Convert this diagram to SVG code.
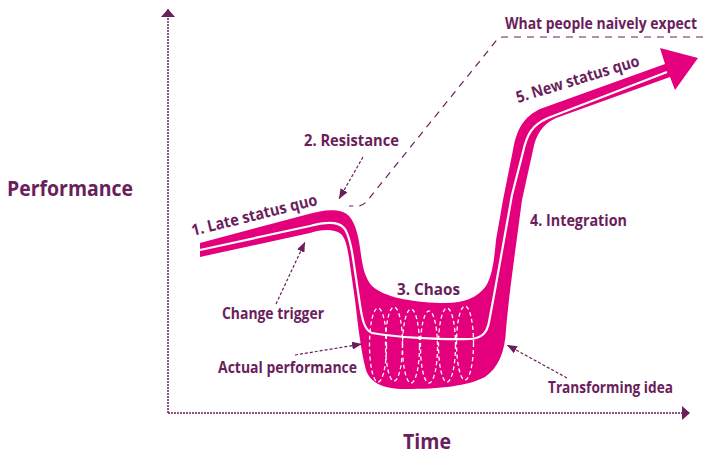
<svg xmlns="http://www.w3.org/2000/svg" width="703" height="454" viewBox="0 0 703 454">
  <defs>
    <style>
      .lbl { font-family: "Open Sans", "Liberation Sans", sans-serif; font-weight: 700; font-size: 16px; fill: #6a1e5c; }
      .axis-title { font-family: "Open Sans", "Liberation Sans", sans-serif; font-weight: 700; font-size: 22px; fill: #6a1e5c; }
      .axis { stroke: #6a1e5c; stroke-width: 1.5; stroke-dasharray: 2 1; fill: none; }
      .pointer { stroke: #6a1e5c; stroke-width: 1.2; stroke-dasharray: 3 2; fill: none; }
      .naive { stroke: #6a1e5c; stroke-width: 1.2; stroke-dasharray: 7 6; fill: none; }
      .ribbon { fill: #e4007d; }
      .core { stroke: #ffffff; stroke-width: 2.2; fill: none; stroke-linejoin: round; }
      .coil { stroke: #ffffff; stroke-width: 1.3; stroke-dasharray: 4 3; fill: none; }
    </style>
    <marker id="axisHead" viewBox="0 0 8 14" markerWidth="8" markerHeight="14" refX="8" refY="7" orient="auto" markerUnits="userSpaceOnUse">
      <path d="M0,0 L8,7 L0,14 Z" fill="#6a1e5c"/>
    </marker>
    <marker id="tipHead" viewBox="0 0 10 8" markerWidth="10" markerHeight="8" refX="10" refY="4" orient="auto" markerUnits="userSpaceOnUse">
      <path d="M0,0 L10,4 L0,8 Z" fill="#6a1e5c"/>
    </marker>
  </defs>

  <!-- axes -->
  <g id="axes">
    <line class="axis" x1="168" y1="413" x2="168" y2="9" marker-end="url(#axisHead)"/>
    <line class="axis" x1="168" y1="413" x2="690" y2="413" marker-end="url(#axisHead)"/>
    <text class="axis-title" x="7" y="196" textLength="126" lengthAdjust="spacingAndGlyphs">Performance</text>
    <text class="axis-title" x="403" y="449" textLength="48" lengthAdjust="spacingAndGlyphs">Time</text>
  </g>

  <!-- performance curve: band with bowl and arrowhead -->
  <g id="curve">
    <path class="ribbon" d="M200,243 L305,215 C322,210 340,207 349,216 C356,224 359,238 361,255 C363,268 365,278 372,286 C384,297 410,302 440,303 C462,304 476,299 486,286 C492,276 494,262 496,240 L503,200 L513,150 C517,128 524,117 540,109 L665,64 L660,48 L698,58 L675,90 L670,77 L556,118 C543,124 536,134 533,150 L522,200 L516,245 C512,275 508,305 506,330 C505,352 498,368 485,377 C468,386 440,389 405,389 C382,389 370,382 366,370 C361,352 358,325 355,300 L349,258 C347,245 345,238 341,234 C333,228 320,230 310,233 L200,257 Z"/>
    <!-- dashed coil inside the chaos bowl -->
    <g id="chaos-coil">
      <ellipse class="coil" cx="378" cy="345" rx="8.5" ry="37"/>
      <ellipse class="coil" cx="394" cy="344" rx="8.5" ry="37"/>
      <ellipse class="coil" cx="411" cy="346" rx="8.5" ry="37"/>
      <ellipse class="coil" cx="429" cy="347" rx="8.5" ry="36"/>
      <ellipse class="coil" cx="447" cy="345" rx="8.5" ry="37"/>
      <ellipse class="coil" cx="465" cy="343" rx="8.5" ry="37"/>
    </g>
    <path class="core" d="M200,250 L310,226 C325,222 338,221 344,228 C349,234 351,245 353,258 L360,305 C362,318 364,330 372,333 C395,337 440,340 470,339 C482,338 487,333 489,322 L495,290 L504,240 L512,195 L523,152 C527,134 532,125 548,118 L667,72"/>
  </g>

  <!-- connectors -->
  <g id="connectors">
    <path class="naive" d="M703,37 L503,37 Q499,37 496,41 L367,201 Q363,206 357,206 L349,206"/>
    <line class="pointer" x1="363" y1="157" x2="339" y2="199" marker-end="url(#tipHead)"/>
    <line class="pointer" x1="276" y1="304" x2="305" y2="242" marker-end="url(#tipHead)"/>
    <line class="pointer" x1="295" y1="355" x2="362" y2="344" marker-end="url(#tipHead)"/>
    <line class="pointer" x1="567" y1="378" x2="507" y2="345" marker-end="url(#tipHead)"/>
  </g>

  <!-- labels -->
  <g id="label-expect"><text class="lbl" x="697" y="29" text-anchor="end" textLength="192" lengthAdjust="spacingAndGlyphs">What people naively expect</text></g>
  <g id="label-late"><text class="lbl" transform="translate(193,236) rotate(-14)" textLength="129" lengthAdjust="spacingAndGlyphs">1. Late status quo</text></g>
  <g id="label-resistance"><text class="lbl" x="304" y="146" textLength="95" lengthAdjust="spacingAndGlyphs">2. Resistance</text></g>
  <g id="label-chaos"><text class="lbl" x="397" y="295" textLength="63" lengthAdjust="spacingAndGlyphs">3. Chaos</text></g>
  <g id="label-integration"><text class="lbl" x="530" y="226" textLength="97" lengthAdjust="spacingAndGlyphs">4. Integration</text></g>
  <g id="label-new"><text class="lbl" transform="translate(518,103) rotate(-17)" textLength="128" lengthAdjust="spacingAndGlyphs">5. New status quo</text></g>
  <g id="label-trigger"><text class="lbl" x="222" y="319" textLength="102" lengthAdjust="spacingAndGlyphs">Change trigger</text></g>
  <g id="label-actual"><text class="lbl" x="218" y="373" textLength="139" lengthAdjust="spacingAndGlyphs">Actual performance</text></g>
  <g id="label-idea"><text class="lbl" x="548" y="393" textLength="125" lengthAdjust="spacingAndGlyphs">Transforming idea</text></g>
</svg>
